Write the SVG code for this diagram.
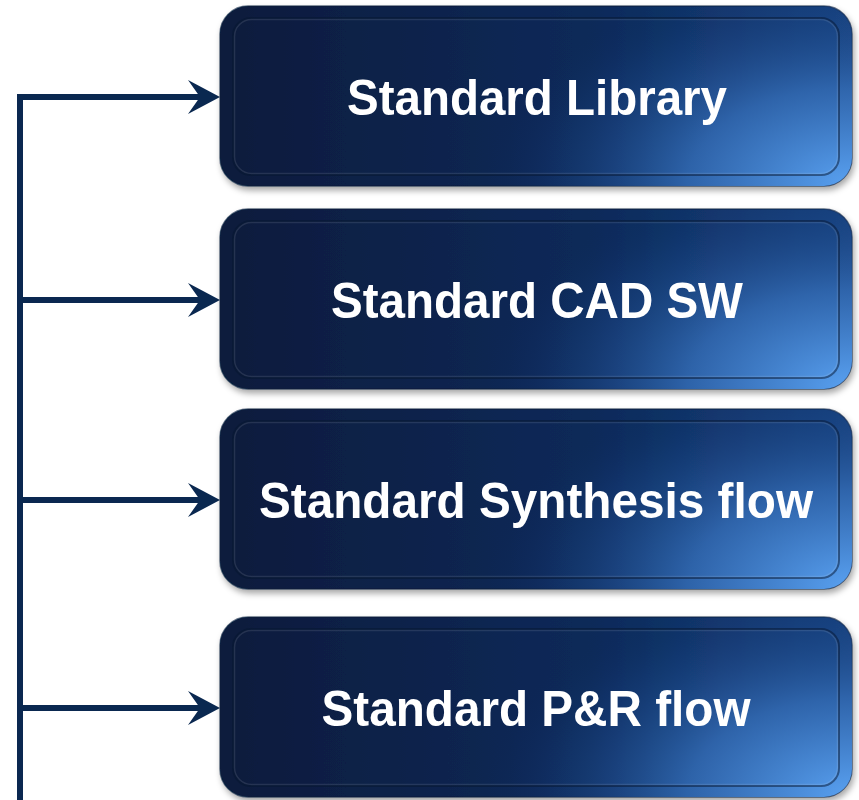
<svg xmlns="http://www.w3.org/2000/svg" width="859" height="800" viewBox="0 0 859 800">
  <defs>
    <linearGradient id="baseGrad" x1="0" y1="0" x2="1" y2="0">
      <stop offset="0" stop-color="#081b3c"/>
      <stop offset="0.6" stop-color="#0c2a5a"/>
      <stop offset="1" stop-color="#1a4584"/>
    </linearGradient>
    <radialGradient id="glowGrad" cx="1" cy="1" r="0.58" gradientTransform="translate(1,1) scale(1,2.1) translate(-1,-1)">
      <stop offset="0" stop-color="#5aa2f2" stop-opacity="1"/>
      <stop offset="0.45" stop-color="#3168b0" stop-opacity="0.9"/>
      <stop offset="0.8" stop-color="#173f7c" stop-opacity="0.4"/>
      <stop offset="1" stop-color="#0c2a5a" stop-opacity="0"/>
    </radialGradient>
    <filter id="shadow" x="-5%" y="-10%" width="112%" height="125%">
      <feDropShadow dx="2" dy="4" stdDeviation="3" flood-color="#000" flood-opacity="0.35"/>
    </filter>
    <marker id="arrow" viewBox="0 0 32 34" refX="18" refY="17" markerWidth="32" markerHeight="34" markerUnits="userSpaceOnUse" orient="auto">
      <path d="M0,0 L32,17 L0,34 L12,17 Z" fill="#0a2850"/>
    </marker>
    <style>
      .outer { fill: url(#baseGrad); stroke: #071a38; stroke-opacity: 0.6; stroke-width: 1.5; filter: url(#shadow); }
      .glow { fill: url(#glowGrad); }
      .inner { fill: none; stroke: #061530; stroke-opacity: 0.5; stroke-width: 2; }
      .hl { fill: none; stroke: #ffffff; stroke-opacity: 0.1; stroke-width: 1.5; }
      .label { font-family: "Liberation Sans", Arial, sans-serif; font-weight: bold; font-size: 50px; fill: #ffffff; text-anchor: middle; }
      .conn { fill: none; stroke: #0a2850; stroke-width: 6; stroke-linejoin: miter; }
    </style>
  </defs>

  <g id="connectors">
    <path class="conn" d="M20,800 V97 H206" marker-end="url(#arrow)"/>
    <path class="conn" d="M20,300 H206" marker-end="url(#arrow)"/>
    <path class="conn" d="M20,500 H206" marker-end="url(#arrow)"/>
    <path class="conn" d="M20,708 H206" marker-end="url(#arrow)"/>
  </g>

  <g id="node-library">
    <rect class="outer" x="220" y="6" width="632" height="180" rx="28"/>
    <rect class="glow" x="220" y="6" width="632" height="180" rx="28"/>
    <rect class="inner" x="233" y="18" width="606" height="157" rx="18"/>
    <rect class="hl" x="234.5" y="19.5" width="603" height="154" rx="17"/>
    <text class="label" x="537" y="115" textLength="380" lengthAdjust="spacingAndGlyphs">Standard Library</text>
  </g>

  <g id="node-cad">
    <rect class="outer" x="220" y="209" width="632" height="180" rx="28"/>
    <rect class="glow" x="220" y="209" width="632" height="180" rx="28"/>
    <rect class="inner" x="233" y="221" width="606" height="157" rx="18"/>
    <rect class="hl" x="234.5" y="222.5" width="603" height="154" rx="17"/>
    <text class="label" x="537" y="318" textLength="412" lengthAdjust="spacingAndGlyphs">Standard CAD SW</text>
  </g>

  <g id="node-synthesis">
    <rect class="outer" x="220" y="409" width="632" height="180" rx="28"/>
    <rect class="glow" x="220" y="409" width="632" height="180" rx="28"/>
    <rect class="inner" x="233" y="421" width="606" height="157" rx="18"/>
    <rect class="hl" x="234.5" y="422.5" width="603" height="154" rx="17"/>
    <text class="label" x="536" y="518" textLength="554" lengthAdjust="spacingAndGlyphs">Standard Synthesis flow</text>
  </g>

  <g id="node-pr">
    <rect class="outer" x="220" y="617" width="632" height="180" rx="28"/>
    <rect class="glow" x="220" y="617" width="632" height="180" rx="28"/>
    <rect class="inner" x="233" y="629" width="606" height="157" rx="18"/>
    <rect class="hl" x="234.5" y="630.5" width="603" height="154" rx="17"/>
    <text class="label" x="536" y="726" textLength="429" lengthAdjust="spacingAndGlyphs">Standard P&amp;R flow</text>
  </g>
</svg>
